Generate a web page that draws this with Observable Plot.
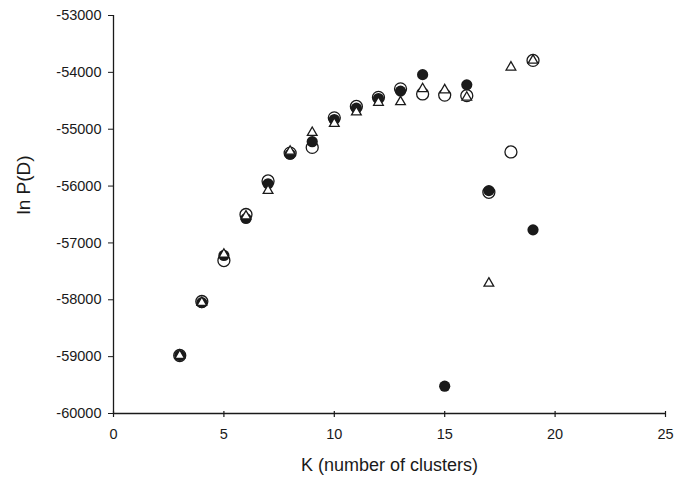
<!DOCTYPE html>
<html>
<head>
<meta charset="utf-8">
<script src="https://cdn.jsdelivr.net/npm/d3@7"></script>
<script src="https://cdn.jsdelivr.net/npm/@observablehq/plot@0.6"></script>
<style>
  html, body { margin: 0; padding: 0; background: #fff; }
</style>
</head>
<body>
<div id="chart"></div>
<script>
const K = [3, 4, 5, 6, 7, 8, 9, 10, 11, 12, 13, 14, 15, 16, 17, 18, 19];
const filledCircles = [-58980, -58050, -57220, -56570, -55960, -55440, -55220, -54830, -54630, -54460, -54330, -54040, -59520, -54220, -56080, null, -56770];
const openCircles = [-58980, -58030, -57310, -56500, -55910, -55420, -55320, -54800, -54600, -54440, -54290, -54380, -54400, -54410, -56110, -55400, -53790];
const triangles = [-58980, -58050, -57200, -56530, -56080, -55390, -55060, -54900, -54700, -54530, -54520, -54290, -54310, -54440, -57710, -53910, -53790];
const xTicks = [0, 5, 10, 15, 20, 25];
const yTicks = [-60000, -59000, -58000, -57000, -56000, -55000, -54000, -53000];

const toRows = (vals) => K.map((k, i) => ({k, v: vals[i]})).filter(d => d.v != null);
const filledData = toRows(filledCircles);
const openData = toRows(openCircles);
const triData = toRows(triangles);

const ink = "#1a1a1a";
const yMin = yTicks[0];

const chart = Plot.plot({
  width: 688,
  height: 482,
  marginLeft: 113,
  marginRight: 23,
  marginTop: 15,
  marginBottom: 69,
  style: {fontFamily: "'Liberation Sans', Arial, sans-serif", fontSize: "14.5px", color: ink, background: "#fff"},
  x: {domain: [0, 25]},
  y: {domain: [-60000, -53000]},
  marks: [
    Plot.ruleX([0], {stroke: ink, strokeWidth: 1.3}),
    Plot.ruleY([yMin], {stroke: ink, strokeWidth: 1.3}),
    Plot.axisX({ticks: xTicks, tickSize: 0, tickPadding: 15, tickFormat: d => String(d), fontSize: 14.5,
      label: null}),
    Plot.ruleX(xTicks, {x: d => d, y1: yMin, y2: yMin, insetTop: -2, insetBottom: -4, stroke: ink, strokeWidth: 1.2}),
    Plot.axisY({ticks: yTicks, tickSize: 5, tickPadding: 7, tickFormat: d => String(d), fontSize: 14.5,
      label: null, stroke: ink}),
    Plot.text(["K (number of clusters)"], {frameAnchor: "bottom", lineAnchor: "middle", dy: 52, fontSize: 18, fill: ink}),
    Plot.text(["ln P(D)"], {frameAnchor: "left", rotate: -90, lineAnchor: "middle", dx: -90, fontSize: 19, fill: ink}),
    Plot.dot(openData, {x: "k", y: "v", r: 6, fill: "white", stroke: ink, strokeWidth: 1.3}),
    Plot.dot(filledData, {x: "k", y: "v", r: 5.6, fill: ink, stroke: "none"}),
    Plot.dot(triData, {x: "k", y: "v", symbol: "triangle", r: 3.6, fill: "white", stroke: ink, strokeWidth: 1.3})
  ]
});
document.getElementById("chart").appendChild(chart);
</script>
</body>
</html>
